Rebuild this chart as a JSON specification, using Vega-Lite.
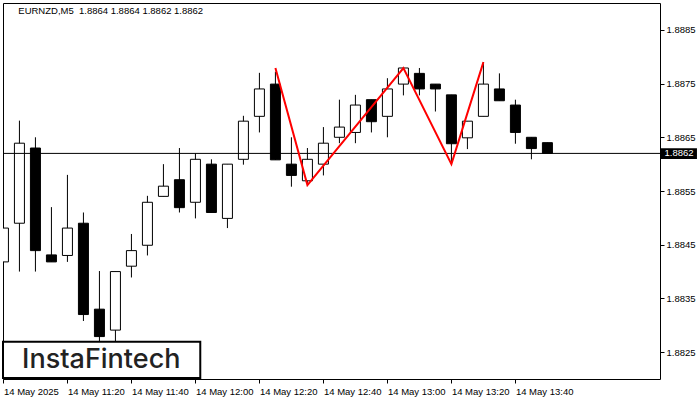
{
  "$schema": "https://vega.github.io/schema/vega-lite/v6.json",
  "width": 657,
  "height": 376,
  "autosize": {"type": "none"},
  "padding": {"left": 3, "top": 3, "right": 40, "bottom": 21},
  "background": "white",
  "config": {"view": {"stroke": "black", "strokeWidth": 1}, "font": "Liberation Sans"},
  "datasets": {
    "candles": [
      {"t": "2025-05-14T11:00:00", "open": 1.88418, "high": 1.88520, "low": 1.88400, "close": 1.88481},
      {"t": "2025-05-14T11:05:00", "open": 1.88490, "high": 1.88681, "low": 1.88400, "close": 1.88639},
      {"t": "2025-05-14T11:10:00", "open": 1.88630, "high": 1.88650, "low": 1.88400, "close": 1.88439},
      {"t": "2025-05-14T11:15:00", "open": 1.88431, "high": 1.88520, "low": 1.88418, "close": 1.88418},
      {"t": "2025-05-14T11:20:00", "open": 1.88430, "high": 1.88580, "low": 1.88418, "close": 1.88481},
      {"t": "2025-05-14T11:25:00", "open": 1.88490, "high": 1.88510, "low": 1.88308, "close": 1.88320},
      {"t": "2025-05-14T11:30:00", "open": 1.88330, "high": 1.88401, "low": 1.88265, "close": 1.88279},
      {"t": "2025-05-14T11:35:00", "open": 1.88291, "high": 1.88400, "low": 1.88270, "close": 1.88400},
      {"t": "2025-05-14T11:40:00", "open": 1.88410, "high": 1.88470, "low": 1.88389, "close": 1.88439},
      {"t": "2025-05-14T11:45:00", "open": 1.88449, "high": 1.88541, "low": 1.88430, "close": 1.88529},
      {"t": "2025-05-14T11:50:00", "open": 1.88540, "high": 1.88600, "low": 1.88540, "close": 1.88559},
      {"t": "2025-05-14T11:55:00", "open": 1.88571, "high": 1.88630, "low": 1.88510, "close": 1.88519},
      {"t": "2025-05-14T12:00:00", "open": 1.88529, "high": 1.88620, "low": 1.88499, "close": 1.88609},
      {"t": "2025-05-14T12:05:00", "open": 1.88600, "high": 1.88609, "low": 1.88510, "close": 1.88510},
      {"t": "2025-05-14T12:10:00", "open": 1.88499, "high": 1.88600, "low": 1.88481, "close": 1.88600},
      {"t": "2025-05-14T12:15:00", "open": 1.88609, "high": 1.88690, "low": 1.88599, "close": 1.88680},
      {"t": "2025-05-14T12:20:00", "open": 1.88689, "high": 1.88770, "low": 1.88659, "close": 1.88740},
      {"t": "2025-05-14T12:25:00", "open": 1.88749, "high": 1.88772, "low": 1.88608, "close": 1.88608},
      {"t": "2025-05-14T12:30:00", "open": 1.88600, "high": 1.88650, "low": 1.88558, "close": 1.88579},
      {"t": "2025-05-14T12:35:00", "open": 1.88569, "high": 1.88630, "low": 1.88565, "close": 1.88609},
      {"t": "2025-05-14T12:40:00", "open": 1.88600, "high": 1.88669, "low": 1.88579, "close": 1.88639},
      {"t": "2025-05-14T12:45:00", "open": 1.88650, "high": 1.88720, "low": 1.88639, "close": 1.88669},
      {"t": "2025-05-14T12:50:00", "open": 1.88659, "high": 1.88729, "low": 1.88639, "close": 1.88710},
      {"t": "2025-05-14T12:55:00", "open": 1.88720, "high": 1.88720, "low": 1.88659, "close": 1.88679},
      {"t": "2025-05-14T13:00:00", "open": 1.88689, "high": 1.88760, "low": 1.88650, "close": 1.88740},
      {"t": "2025-05-14T13:05:00", "open": 1.88749, "high": 1.88779, "low": 1.88728, "close": 1.88779},
      {"t": "2025-05-14T13:10:00", "open": 1.88769, "high": 1.88779, "low": 1.88728, "close": 1.88740},
      {"t": "2025-05-14T13:15:00", "open": 1.88749, "high": 1.88749, "low": 1.88698, "close": 1.88740},
      {"t": "2025-05-14T13:20:00", "open": 1.88729, "high": 1.88729, "low": 1.88600, "close": 1.88638},
      {"t": "2025-05-14T13:25:00", "open": 1.88649, "high": 1.88680, "low": 1.88628, "close": 1.88680},
      {"t": "2025-05-14T13:30:00", "open": 1.88689, "high": 1.88790, "low": 1.88689, "close": 1.88749},
      {"t": "2025-05-14T13:35:00", "open": 1.88740, "high": 1.88769, "low": 1.88718, "close": 1.88718},
      {"t": "2025-05-14T13:40:00", "open": 1.88710, "high": 1.88720, "low": 1.88638, "close": 1.88659},
      {"t": "2025-05-14T13:45:00", "open": 1.88650, "high": 1.88650, "low": 1.88609, "close": 1.88629},
      {"t": "2025-05-14T13:50:00", "open": 1.88640, "high": 1.88640, "low": 1.88620, "close": 1.88620}
    ],
    "pattern": [
      {"t": "2025-05-14T12:25:00", "price": 1.88779},
      {"t": "2025-05-14T12:35:00", "price": 1.88561},
      {"t": "2025-05-14T13:05:00", "price": 1.88779},
      {"t": "2025-05-14T13:20:00", "price": 1.88600},
      {"t": "2025-05-14T13:30:00", "price": 1.88790}
    ],
    "one": [{}]
  },
  "layer": [
    {
      "data": {"name": "candles"},
      "mark": {"type": "rule", "color": "black", "strokeWidth": 1, "clip": true},
      "encoding": {
        "x": {
          "field": "t", "type": "temporal", "title": null,
          "scale": {
            "domain": [
              {"year": 2025, "month": 5, "date": 14, "hours": 10, "minutes": 59, "seconds": 52},
              {"year": 2025, "month": 5, "date": 14, "hours": 14, "minutes": 25, "seconds": 11}
            ],
            "nice": false,
            "padding": 0
          },
          "axis": {
            "orient": "bottom",
            "title": null,
            "grid": false,
            "domain": false,
            "values": [
              {"year": 2025, "month": 5, "date": 14, "hours": 11, "minutes": 0},
              {"year": 2025, "month": 5, "date": 14, "hours": 11, "minutes": 20},
              {"year": 2025, "month": 5, "date": 14, "hours": 11, "minutes": 40},
              {"year": 2025, "month": 5, "date": 14, "hours": 12, "minutes": 0},
              {"year": 2025, "month": 5, "date": 14, "hours": 12, "minutes": 20},
              {"year": 2025, "month": 5, "date": 14, "hours": 12, "minutes": 40},
              {"year": 2025, "month": 5, "date": 14, "hours": 13, "minutes": 0},
              {"year": 2025, "month": 5, "date": 14, "hours": 13, "minutes": 20},
              {"year": 2025, "month": 5, "date": 14, "hours": 13, "minutes": 40}
            ],
            "labelExpr": "hours(datum.value) == 11 && minutes(datum.value) == 0 ? '14 May 2025' : timeFormat(datum.value, '%d %b %H:%M')",
            "labelAlign": "left",
            "labelBaseline": "top",
            "labelPadding": 3,
            "labelFont": "Liberation Sans",
            "labelFontSize": 9.5,
            "labelColor": "black",
            "labelFlush": false,
            "labelOverlap": false,
            "tickSize": 4,
            "tickColor": "black",
            "tickWidth": 1
          }
        },
        "y": {
          "field": "low", "type": "quantitative", "title": null,
          "scale": {"domain": [1.8820, 1.8890], "nice": false, "zero": false, "padding": 0},
          "axis": {
            "orient": "right",
            "title": null,
            "grid": false,
            "domain": false,
            "values": [1.8825, 1.8835, 1.8845, 1.8855, 1.8865, 1.8875, 1.8885],
            "format": ".4f",
            "labelFont": "Liberation Sans",
            "labelFontSize": 9.5,
            "labelColor": "black",
            "labelPadding": 2,
            "labelFlush": false,
            "tickSize": 4,
            "tickColor": "black",
            "tickWidth": 1
          }
        },
        "y2": {"field": "high"}
      }
    },
    {
      "data": {"name": "candles"},
      "mark": {"type": "bar", "width": 10, "stroke": "black", "strokeWidth": 1, "clip": true},
      "encoding": {
        "x": {"field": "t", "type": "temporal", "title": null},
        "y": {"field": "open", "type": "quantitative", "title": null},
        "y2": {"field": "close"},
        "fill": {"condition": {"test": "datum.close > datum.open", "value": "white"}, "value": "black"}
      }
    },
    {
      "data": {"name": "one"},
      "mark": {"type": "rule", "color": "black", "strokeWidth": 1},
      "encoding": {"y": {"datum": 1.8862, "type": "quantitative", "title": null}}
    },
    {
      "data": {"name": "pattern"},
      "mark": {"type": "line", "color": "#ff0000", "strokeWidth": 2},
      "encoding": {
        "x": {"field": "t", "type": "temporal", "title": null},
        "y": {"field": "price", "type": "quantitative", "title": null}
      }
    },
    {
      "data": {"name": "one"},
      "mark": {"type": "text", "text": "EURNZD,M5\u00a0 1.8864 1.8864 1.8862 1.8862", "font": "Liberation Sans", "fontSize": 9.5, "color": "black", "align": "left", "baseline": "alphabetic"},
      "encoding": {
        "x": {"datum": {"year": 2025, "month": 5, "date": 14, "hours": 11, "minutes": 4, "seconds": 39}, "type": "temporal", "title": null},
        "y": {"datum": 1.888795, "type": "quantitative", "title": null}
      }
    },
    {
      "data": {"name": "one"},
      "mark": {"type": "rect", "fill": "white", "stroke": "black", "strokeWidth": 2, "clip": false},
      "encoding": {
        "x": {"datum": {"year": 2025, "month": 5, "date": 14, "hours": 10, "minutes": 59, "seconds": 52}, "type": "temporal", "title": null},
        "x2": {"datum": {"year": 2025, "month": 5, "date": 14, "hours": 12, "minutes": 1, "seconds": 31}},
        "y": {"datum": 1.882694, "type": "quantitative", "title": null},
        "y2": {"datum": 1.882019}
      }
    },
    {
      "data": {"name": "one"},
      "mark": {"type": "text", "text": "InstaFintech", "font": "Inter", "fontSize": 27, "fontWeight": 500, "color": "#222222", "align": "center", "baseline": "alphabetic"},
      "encoding": {
        "x": {"datum": {"year": 2025, "month": 5, "date": 14, "hours": 11, "minutes": 30, "seconds": 35}, "type": "temporal", "title": null},
        "y": {"datum": 1.882205, "type": "quantitative", "title": null}
      }
    },
    {
      "data": {"name": "one"},
      "mark": {"type": "rect", "fill": "black", "clip": false},
      "encoding": {
        "x": {"datum": {"year": 2025, "month": 5, "date": 14, "hours": 14, "minutes": 25, "seconds": 29}, "type": "temporal", "title": null},
        "x2": {"datum": {"year": 2025, "month": 5, "date": 14, "hours": 14, "minutes": 36, "seconds": 44}},
        "y": {"datum": 1.886295, "type": "quantitative", "title": null},
        "y2": {"datum": 1.886096}
      }
    },
    {
      "data": {"name": "one"},
      "mark": {"type": "text", "text": "1.8862", "font": "Liberation Sans", "fontSize": 9.5, "color": "white", "align": "center", "baseline": "middle", "clip": false},
      "encoding": {
        "x": {"datum": {"year": 2025, "month": 5, "date": 14, "hours": 14, "minutes": 31, "seconds": 7}, "type": "temporal", "title": null},
        "y": {"datum": 1.8862, "type": "quantitative", "title": null}
      }
    }
  ]
}
